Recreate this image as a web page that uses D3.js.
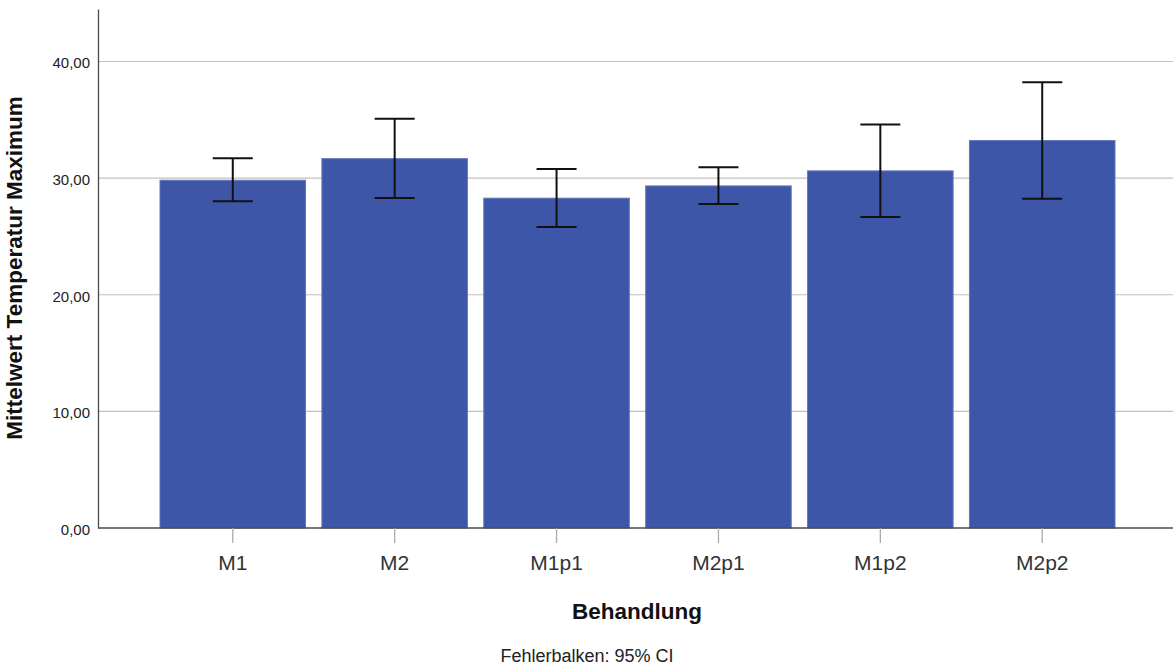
<!DOCTYPE html>
<html>
<head>
<meta charset="utf-8">
<script src="https://cdn.jsdelivr.net/npm/d3@7"></script>
<style>
  body { margin: 0; background: #fff; }
  svg { display: block; font-family: "Liberation Sans", Arial, sans-serif; }
</style>
</head>
<body>
<div id="chart-area"></div>
<script>
// data
var categories = ['M1', 'M2', 'M1p1', 'M2p1', 'M1p2', 'M2p2'];
var means      = [29.82, 31.67, 28.28, 29.33, 30.62, 33.22];
var ciLow      = [28.02, 28.30, 25.81, 27.79, 26.67, 28.22];
var ciHigh     = [31.70, 35.08, 30.79, 30.93, 34.59, 38.22];
var yTicks     = [0, 10, 20, 30, 40];

var outerWidth = 1173;
var outerHeight = 666;
var axisX = 98;
var baseY = 528;

var svg = d3.select('#chart-area').append('svg')
            .attr('width', outerWidth)
            .attr('height', outerHeight);

var xScale = d3.scaleBand()
               .domain(categories)
               .range([axisX, 1177])
               .paddingInner(0.101)
               .paddingOuter(0.383);

var yScale = d3.scaleLinear()
               .domain([0, 44.5])
               .range([baseY, 9]);

var fmt = function(v) { return d3.format('.2f')(v).replace('.', ','); };

// gridlines
svg.append('g')
   .selectAll('line')
   .data(yTicks.filter(function(d) { return d > 0; }))
   .enter().append('line')
   .attr('x1', axisX)
   .attr('x2', outerWidth)
   .attr('y1', function(d) { return yScale(d); })
   .attr('y2', function(d) { return yScale(d); })
   .attr('stroke', '#c4c0c0')
   .attr('stroke-width', 1.2);

// bars
svg.append('g')
   .selectAll('rect')
   .data(categories)
   .enter().append('rect')
   .attr('x', function(d) { return xScale(d); })
   .attr('width', xScale.bandwidth())
   .attr('y', function(d, i) { return yScale(means[i]); })
   .attr('height', function(d, i) { return baseY - yScale(means[i]); })
   .attr('fill', '#3d56a8')
   .attr('stroke', '#6277bd')
   .attr('stroke-width', 1);

// error bars
var capHalf = 20;
var eb = svg.append('g').selectAll('g')
            .data(categories)
            .enter().append('g')
            .attr('stroke', '#111')
            .attr('stroke-width', 2);
eb.append('line')
  .attr('x1', function(d) { return xScale(d) + xScale.bandwidth() / 2; })
  .attr('x2', function(d) { return xScale(d) + xScale.bandwidth() / 2; })
  .attr('y1', function(d, i) { return yScale(ciLow[i]); })
  .attr('y2', function(d, i) { return yScale(ciHigh[i]); });
eb.append('line')
  .attr('x1', function(d) { return xScale(d) + xScale.bandwidth() / 2 - capHalf; })
  .attr('x2', function(d) { return xScale(d) + xScale.bandwidth() / 2 + capHalf; })
  .attr('y1', function(d, i) { return yScale(ciHigh[i]); })
  .attr('y2', function(d, i) { return yScale(ciHigh[i]); });
eb.append('line')
  .attr('x1', function(d) { return xScale(d) + xScale.bandwidth() / 2 - capHalf; })
  .attr('x2', function(d) { return xScale(d) + xScale.bandwidth() / 2 + capHalf; })
  .attr('y1', function(d, i) { return yScale(ciLow[i]); })
  .attr('y2', function(d, i) { return yScale(ciLow[i]); });

// y axis
var yAxis = d3.axisLeft(yScale)
              .tickValues(yTicks)
              .tickSize(0)
              .tickPadding(8)
              .tickFormat(fmt);
var yAxisG = svg.append('g')
                .attr('transform', 'translate(' + axisX + ',0)')
                .call(yAxis);
yAxisG.select('.domain').attr('stroke', '#4a4a4a').attr('stroke-width', 1.3);
yAxisG.selectAll('text')
      .attr('font-size', '15px')
      .attr('fill', '#222')
      .attr('dy', '0.42em');

// x axis
var xAxis = d3.axisBottom(xScale)
              .tickSizeInner(15)
              .tickSizeOuter(0)
              .tickPadding(12);
var xAxisG = svg.append('g')
                .attr('transform', 'translate(0,' + baseY + ')')
                .call(xAxis);
xAxisG.select('.domain')
      .attr('d', 'M' + axisX + ',0H' + outerWidth)
      .attr('stroke', '#4a4a4a')
      .attr('stroke-width', 1.3);
xAxisG.selectAll('.tick line').attr('stroke', '#aaa').attr('stroke-width', 1.3);
xAxisG.selectAll('text')
      .attr('font-size', '21px')
      .attr('fill', '#333');

// labels
svg.append('text')
   .attr('transform', 'translate(22,268) rotate(-90)')
   .attr('text-anchor', 'middle')
   .attr('font-size', '22.5px')
   .attr('font-weight', 'bold')
   .attr('fill', '#111')
   .text('Mittelwert Temperatur Maximum');

svg.append('text')
   .attr('x', 637)
   .attr('y', 619)
   .attr('text-anchor', 'middle')
   .attr('font-size', '22.5px')
   .attr('font-weight', 'bold')
   .attr('fill', '#111')
   .text('Behandlung');

svg.append('text')
   .attr('x', 587)
   .attr('y', 662)
   .attr('text-anchor', 'middle')
   .attr('font-size', '18px')
   .attr('fill', '#222')
   .text('Fehlerbalken: 95% CI');
</script>
</body>
</html>
